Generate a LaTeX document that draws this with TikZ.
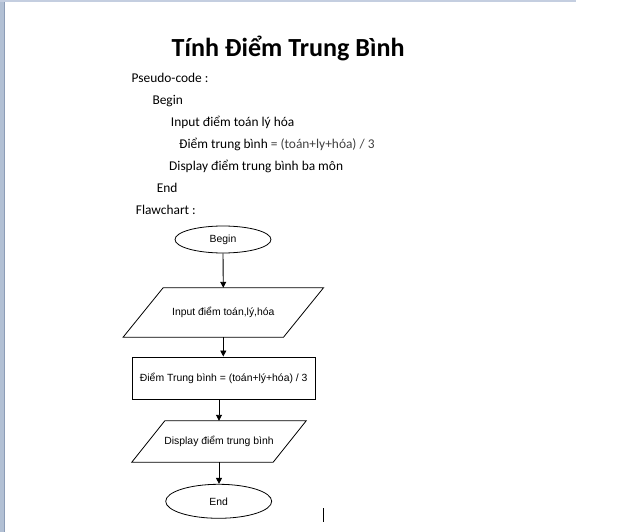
\documentclass[tikz,border=0pt]{standalone}
\usepackage{fontspec}
\setmainfont{Carlito}
\newfontfamily\arialf{Liberation Sans}
\usetikzlibrary{shapes.geometric,arrows.meta}
\definecolor{topbar}{RGB}{196,206,224}
\definecolor{sidebar}{RGB}{178,192,212}
\definecolor{sideedge}{RGB}{140,156,182}
\definecolor{eqgray}{RGB}{64,64,64}
\tikzset{
  pseudo/.style={anchor=base west, inner sep=0, font=\fontsize{13.4}{16}\selectfont},
  fctext/.style={font=\arialf\fontsize{10.4}{12}\selectfont},
  term/.style={ellipse, draw, line width=0.8pt, inner sep=0, fctext},
  iobox/.style={inner sep=0, fctext},
  procbox/.style={draw, line width=0.8pt, inner sep=0, fctext},
  flow/.style={line width=0.9pt, -{Triangle[length=6pt,width=6pt]}},
}
\begin{document}
\begin{tikzpicture}[x=1pt,y=-1pt]
\useasboundingbox (0,0) rectangle (625,532);
% window decorations
\fill[topbar] (0,0) rectangle (576,2);
\fill[sidebar] (0,2) rectangle (4.5,532);
\draw[sideedge, line width=1pt] (4,2) -- (4,532);
% title
\node[anchor=base west, inner sep=0, font=\bfseries\fontsize{26.1}{30}\selectfont] (title) at (171.5,57) {Tính Điểm Trung Bình};
% pseudo-code
\node[pseudo] (p0) at (131.5,82.5) {Pseudo-code :};
\node[pseudo] (p1) at (152.3,105) {Begin};
\node[pseudo] (p2) at (170.7,127) {Input điểm toán lý hóa};
\node[pseudo] (p3) at (179,149) {Điểm trung bình {\color{eqgray}= (toán+ly+hóa) / 3}};
\node[pseudo] (p4) at (169,171) {Display điểm trung bình ba môn};
\node[pseudo] (p5) at (156.7,193) {End};
\node[pseudo] (p6) at (135.7,215) {Flawchart :};
% flowchart
\node[term, minimum width=96, minimum height=27] (begin) at (223,239.5) {Begin};
\node[iobox, minimum width=160, minimum height=49] (in) at (223.3,312.5) {Input điểm toán,lý,hóa};
\draw[line width=0.8pt] ([xshift=20]in.north west) -- ([xshift=20]in.north east)
  -- ([xshift=-20]in.south east) -- ([xshift=-20]in.south west) -- cycle;
\node[procbox, minimum width=182.5, minimum height=42.5] (calc) at (223.7,378.2) {Điểm Trung bình = (toán+lý+hóa) / 3};
\node[iobox, minimum width=141, minimum height=41] (disp) at (219,441.5) {Display điểm trung bình};
\draw[line width=0.8pt] ([xshift=16.5]disp.north west) -- ([xshift=16.5]disp.north east)
  -- ([xshift=-16.5]disp.south east) -- ([xshift=-16.5]disp.south west) -- cycle;
\node[term, minimum width=106, minimum height=34] (end) at (218.7,501.3) {End};
\draw[flow] (begin.south) -- (in.north);
\draw[flow] (in.south) -- (calc.north -| in.south);
\draw[flow] (calc.south -| disp.north) -- (disp.north);
\draw[flow] (disp.south) -- (end.north -| disp.south);
% text cursor
\coordinate (cur1) at (323.5,508);
\coordinate (cur2) at (323.5,521.5);
\draw[line width=1pt] (cur1) -- (cur2);
\end{tikzpicture}
\end{document}
